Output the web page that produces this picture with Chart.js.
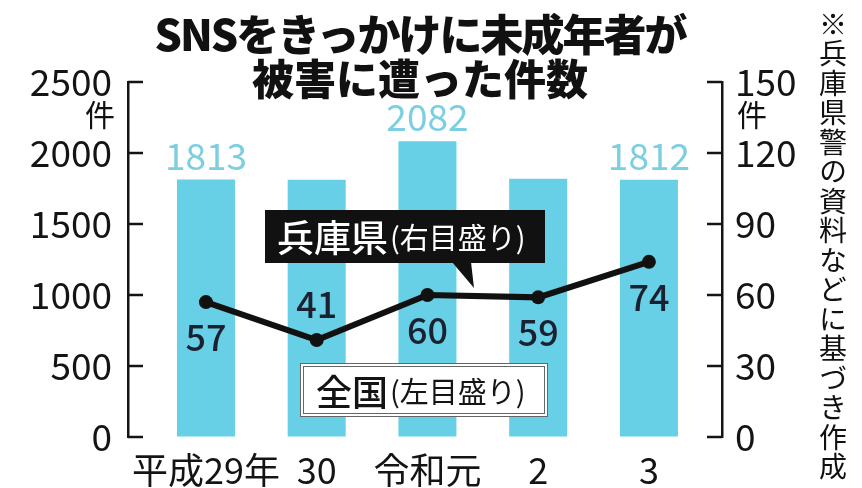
<!DOCTYPE html>
<html>
<head>
<meta charset="utf-8">
<script src="https://cdn.jsdelivr.net/npm/chart.js@4.4.0/dist/chart.umd.min.js"></script>
<style>
html, body { margin: 0; padding: 0; background: #fff; }
#wrap { position: relative; width: 862px; height: 488px; overflow: hidden; font-family: "Noto Sans CJK JP", sans-serif; color: #111; }
#c { position: absolute; left: 0; top: 0; }
.title { position: absolute; left: 0; width: 840px; text-align: center; font-weight: 900; white-space: nowrap; }
.unit { position: absolute; font-size: 30px; line-height: 30px; }
#note { position: absolute; left: 815px; top: 10px; width: 36px; height: 478px; writing-mode: vertical-rl; white-space: nowrap; font-size: 28px; letter-spacing: 1.5px; line-height: 36px; }
</style>
</head>
<body>
<div id="wrap">
  <canvas id="c" width="862" height="488"></canvas>
  <div class="title" style="top:7px;font-size:43px;line-height:50px;letter-spacing:-2px;">SNSをきっかけに未成年者が</div>
  <div class="title" style="top:52px;font-size:42px;line-height:50px;">被害に遭った件数</div>
  <div class="unit" style="left:85px;top:98px;">件</div>
  <div class="unit" style="left:737px;top:98px;">件</div>
  <div id="note">※兵庫県警の資料などに基づき作成</div>
</div>
<script>
// 全国（左目盛り）と兵庫県（右目盛り）
const categories = ['平成29年', '30', '令和元', '2', '3'];
const nationalCounts = [1813, 1811, 2082, 1819, 1812];
const nationalLabels = ['1813', null, '2082', null, '1812'];
const hyogoCounts = [57, 41, 60, 59, 74];
const leftTicks = [0, 500, 1000, 1500, 2000, 2500];
const rightTicks = [0, 30, 60, 90, 120, 150];

const FONT = '"Noto Sans CJK JP", sans-serif';
const INK = '#141414';

// 数値ラベル
const valueLabels = {
    id: 'valueLabels',
    afterDatasetsDraw: function(chart) {
        var ctx = chart.ctx;
        ctx.save();
        ctx.textAlign = 'center';
        ctx.textBaseline = 'middle';
        ctx.font = '37px ' + FONT;
        ctx.fillStyle = '#7ccfe0';
        chart.getDatasetMeta(0).data.forEach(function(el, i) {
            if (nationalLabels[i]) ctx.fillText(nationalLabels[i], el.x, el.y - 24);
        });
        ctx.font = '500 36px ' + FONT;
        ctx.fillStyle = '#1b2130';
        chart.getDatasetMeta(1).data.forEach(function(el, i) {
            var dy = (i === 1) ? -36 : 35;
            ctx.fillText(String(hyogoCounts[i]), el.x, el.y + dy);
        });
        ctx.restore();
    }
};

// 目盛り線（内向き）と凡例ボックス
const extras = {
    id: 'extras',
    afterDraw: function(chart) {
        var ctx = chart.ctx, area = chart.chartArea;
        var ys = chart.scales.y, yr = chart.scales.y1;
        ctx.save();
        ctx.strokeStyle = INK;
        ctx.lineWidth = 2.5;
        ctx.beginPath();
        leftTicks.forEach(function(v) {
            var p = ys.getPixelForValue(v);
            ctx.moveTo(area.left, p); ctx.lineTo(area.left + 15, p);
        });
        rightTicks.forEach(function(v) {
            var p = yr.getPixelForValue(v);
            ctx.moveTo(area.right - 15, p); ctx.lineTo(area.right, p);
        });
        ctx.stroke();

        // 兵庫県 box
        ctx.fillStyle = '#111';
        ctx.fillRect(265, 210, 280, 53);
        ctx.beginPath();
        ctx.moveTo(452, 262); ctx.lineTo(471, 262); ctx.lineTo(474, 288); ctx.closePath();
        ctx.fill();
        ctx.fillStyle = '#fff';
        ctx.textBaseline = 'middle';
        ctx.textAlign = 'left';
        ctx.font = '500 37px ' + FONT;
        ctx.fillText('兵庫県', 277, 238);
        ctx.font = '29px ' + FONT;
        ctx.fillText('(右目盛り)', 390, 238);

        // 全国 box
        ctx.fillStyle = '#fff';
        ctx.fillRect(300, 363, 248, 54);
        ctx.strokeStyle = '#666';
        ctx.lineWidth = 1;
        ctx.strokeRect(300.5, 363.5, 247, 53);
        ctx.strokeRect(303.5, 366.5, 241, 47);
        ctx.fillStyle = INK;
        ctx.font = '500 36px ' + FONT;
        ctx.fillText('全国', 316, 392);
        ctx.font = '29px ' + FONT;
        ctx.fillText('(左目盛り)', 390, 392);
        ctx.restore();
    }
};

function plain(v) { return String(v); }

const ctx = document.getElementById('c');
const myChart = new Chart(ctx, {
    data: {
        datasets: [{
            type: 'bar',
            label: '全国',
            data: nationalCounts.map(function(v, i) { return { x: i, y: v }; }),
            backgroundColor: '#67d0e6',
            borderWidth: 0,
            categoryPercentage: 1,
            barPercentage: 0.524,
            yAxisID: 'y',
            order: 1
        }, {
            type: 'line',
            label: '兵庫県',
            data: hyogoCounts.map(function(v, i) { return { x: i, y: v }; }),
            borderColor: '#111',
            borderWidth: 6,
            pointRadius: 7,
            pointBackgroundColor: '#111',
            pointBorderWidth: 0,
            tension: 0,
            yAxisID: 'y1',
            order: 0
        }]
    },
    options: {
        responsive: false,
        animation: false,
        devicePixelRatio: 1,
        layout: { padding: { top: 82, left: 0, right: 0, bottom: 0 } },
        plugins: { legend: { display: false }, tooltip: { enabled: false } },
        scales: {
            x: {
                type: 'linear',
                offset: false,
                min: -0.704,
                max: 4.66,
                afterBuildTicks: function(s) { s.ticks = categories.map(function(c, i) { return { value: i }; }); },
                afterFit: function(s) { s.height = 51; },
                grid: { display: false, offset: false },
                border: { display: false },
                ticks: {
                    callback: function(v) { return categories[v]; },
                    font: { size: 36, family: FONT },
                    color: INK,
                    padding: 4,
                    maxRotation: 0,
                    autoSkip: false
                }
            },
            y: {
                position: 'left',
                min: 0,
                max: 2500,
                afterBuildTicks: function(s) { s.ticks = leftTicks.map(function(v) { return { value: v }; }); },
                afterFit: function(s) { s.width = 128; },
                grid: { drawOnChartArea: false, drawTicks: false },
                border: { color: INK, width: 2.5 },
                ticks: { callback: plain, font: { size: 37, family: FONT }, color: INK, padding: 16 }
            },
            y1: {
                position: 'right',
                min: 0,
                max: 150,
                afterBuildTicks: function(s) { s.ticks = rightTicks.map(function(v) { return { value: v }; }); },
                afterFit: function(s) { s.width = 140; },
                grid: { drawOnChartArea: false, drawTicks: false },
                border: { color: INK, width: 2.5 },
                ticks: { callback: plain, font: { size: 37, family: FONT }, color: INK, padding: 13 }
            }
        }
    },
    plugins: [valueLabels, extras]
});
</script>
</body>
</html>
